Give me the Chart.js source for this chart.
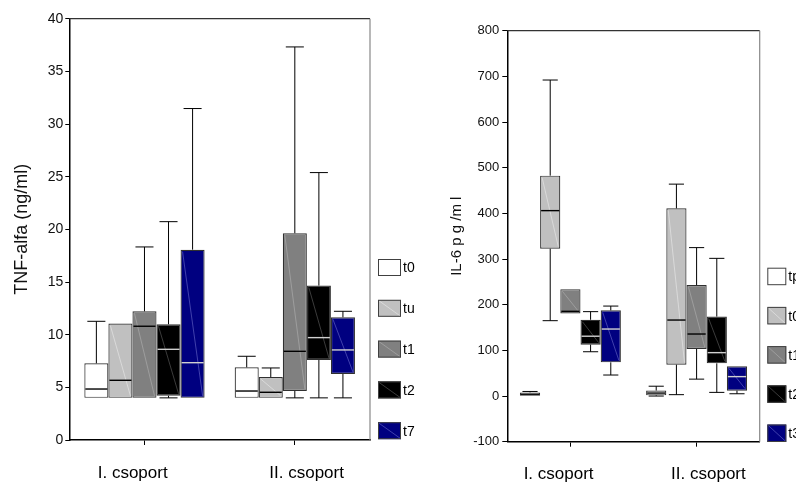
<!DOCTYPE html>
<html>
<head>
<meta charset="utf-8">
<script src="https://cdn.jsdelivr.net/npm/chart.js@4/dist/chart.umd.min.js"></script>
<style>
  html, body { margin: 0; padding: 0; background: #fff; }
  #wrap { position: relative; width: 796px; height: 487px; overflow: hidden; }
  #left { position: absolute; left: 0; top: 0; }
  #right { position: absolute; left: 440px; top: 0; }
</style>
</head>
<body>
<div id="wrap">
  <canvas id="left" width="440" height="487"></canvas>
  <canvas id="right" width="356" height="487"></canvas>
</div>
<script>
// x axis groups
const groups = ["I. csoport", "II. csoport"];

// TNF-alfa (ng/ml): one row per time point, values for [I., II.]
const tnfSeries = ["t0", "tu", "t1", "t2", "t7"];
const tnfMin = [[4, 4], [4, 4], [4, 4], [4, 4], [4, 4]];
const tnfQ1  = [[4, 4], [4, 4], [4, 4.65], [4.2, 7.6], [4, 6.27]];
const tnfMed = [[4.84, 4.65], [5.67, 4.53], [10.8, 8.42], [8.61, 9.72], [7.34, 8.55]];
const tnfQ3  = [[7.28, 6.9], [11.05, 5.98], [12.22, 19.63], [10.99, 14.66], [18.07, 11.65]];
const tnfMax = [[11.27, 7.95], [11.05, 6.84], [18.33, 37.32], [20.73, 25.39], [31.47, 12.22]];
const tnfYMin = 0, tnfYMax = 40, tnfYStep = 5;

// IL-6 (pg/ml)
const ilSeries = ["tp", "t0", "t1", "t2", "t3"];
const ilMin = [[0, 0], [165, 3], [181, 37], [97, 8], [46, 5]];
const ilQ1  = [[0.5, 1.5], [322.7, 68.7], [181, 103], [112.5, 71.6], [73.8, 11.8]];
const ilMed = [[4, 6.5], [406, 166.4], [185.5, 135.8], [131, 95], [146.7, 42.5]];
const ilQ3  = [[8, 12], [482.6, 411], [234, 243], [167, 174], [187.6, 65]];
const ilMax = [[10, 21.5], [692, 464], [234, 325], [184.8, 301.5], [197, 65]];
const ilYMin = -100, ilYMax = 800, ilYStep = 100;

// styles per series position
const fills = ["#ffffff", "#c0c0c0", "#808080", "#000000", "#000080"];
const streaks = [null, "#e0e0e0", "#a4a4a4", "#4a4a4a", "#5050b8"];
const medianColors = ["#000000", "#000000", "#000000", "#d0d0d0", "#d0d0d0"];

Chart.defaults.font.family = "'Liberation Sans', Arial, sans-serif";
Chart.defaults.color = "#000";

// whiskers, caps, medians and the faint diagonal inside each box
const boxPlot = {
  id: "boxPlot",
  afterDatasetsDraw(chart) {
    const ctx = chart.ctx;
    const y = chart.scales.y;
    ctx.save();
    chart.data.datasets.forEach((ds, di) => {
      const meta = chart.getDatasetMeta(di);
      meta.data.forEach((bar, i) => {
        const half = bar.width / 2;
        const left = bar.x - half, right = bar.x + half;
        const cap = bar.width * 0.75 / 2;
        const pMin = y.getPixelForValue(ds.stats.min[i]);
        const pMax = y.getPixelForValue(ds.stats.max[i]);
        const pMed = y.getPixelForValue(ds.stats.med[i]);
        const pTop = y.getPixelForValue(ds.data[i][1]);
        const pBot = y.getPixelForValue(ds.data[i][0]);

        ctx.strokeStyle = "#000";
        ctx.lineWidth = 1;
        if (pMax < pTop - 0.5) {
          ctx.beginPath();
          ctx.moveTo(bar.x, pTop); ctx.lineTo(bar.x, pMax);
          ctx.moveTo(bar.x - cap, pMax); ctx.lineTo(bar.x + cap, pMax);
          ctx.stroke();
        }
        if (pMin > pBot + 0.5) {
          ctx.beginPath();
          ctx.moveTo(bar.x, pBot); ctx.lineTo(bar.x, pMin);
          ctx.moveTo(bar.x - cap, pMin); ctx.lineTo(bar.x + cap, pMin);
          ctx.stroke();
        }
        if (streaks[di]) {
          ctx.strokeStyle = streaks[di];
          ctx.lineWidth = 0.8;
          ctx.beginPath();
          ctx.moveTo(left + 2, pTop + 2); ctx.lineTo(right - 2, pBot - 2);
          ctx.stroke();
        }
        ctx.strokeStyle = medianColors[di];
        ctx.lineWidth = 1.4;
        ctx.beginPath();
        ctx.moveTo(left + 1, pMed); ctx.lineTo(right - 1, pMed);
        ctx.stroke();
      });
    });
    ctx.restore();
  }
};

// top and right edges of the plot frame
const frame = {
  id: "frame",
  afterDraw(chart) {
    const { ctx, chartArea: a } = chart;
    ctx.save();
    ctx.lineWidth = 1.2;
    ctx.strokeStyle = "#333";
    ctx.beginPath(); ctx.moveTo(a.left, a.top); ctx.lineTo(a.right, a.top); ctx.stroke();
    ctx.strokeStyle = "#888";
    ctx.beginPath(); ctx.moveTo(a.right, a.top); ctx.lineTo(a.right, a.bottom); ctx.stroke();
    ctx.restore();
  }
};

// legend column on the right, bottom aligned with the plot
const boxLegend = {
  id: "boxLegend",
  afterDraw(chart, args, o) {
    const { ctx, chartArea: a } = chart;
    ctx.save();
    ctx.font = o.font;
    ctx.textBaseline = "middle";
    ctx.fillStyle = "#000";
    chart.data.datasets.forEach((ds, di) => {
      const x = a.right + o.dx;
      const yy = a.bottom - o.fromBottom + di * o.step;
      ctx.fillStyle = ds.backgroundColor;
      ctx.fillRect(x, yy, o.boxW, o.boxH);
      if (streaks[di]) {
        ctx.strokeStyle = streaks[di];
        ctx.lineWidth = 0.8;
        ctx.beginPath(); ctx.moveTo(x + 1, yy + 1); ctx.lineTo(x + o.boxW - 1, yy + o.boxH - 1); ctx.stroke();
      }
      ctx.strokeStyle = "#404040";
      ctx.lineWidth = 1;
      ctx.strokeRect(x + 0.5, yy + 0.5, o.boxW - 1, o.boxH - 1);
      ctx.fillStyle = "#000";
      ctx.fillText(ds.label, x + o.boxW + 2, yy + o.boxH / 2 + 1);
    });
    ctx.restore();
  }
};

function boxChart(id, series, mins, q1s, meds, q3s, maxs, yMin, yMax, yStep, look) {
  const datasets = series.map((name, s) => ({
    label: name,
    data: groups.map((g, i) => [q1s[s][i], q3s[s][i]]),
    stats: { min: mins[s], med: meds[s], max: maxs[s] },
    backgroundColor: fills[s],
    borderColor: "#303030",
    borderWidth: 1.2,
    borderSkipped: false,
    barPercentage: 1,
    categoryPercentage: 0.8
  }));
  return new Chart(document.getElementById(id), {
    type: "bar",
    data: { labels: groups, datasets: datasets },
    plugins: [boxPlot, frame, boxLegend],
    options: {
      responsive: false,
      maintainAspectRatio: false,
      animation: false,
      layout: { padding: { top: look.top, right: look.right, left: 0, bottom: 0 } },
      plugins: {
        legend: { display: false },
        tooltip: { enabled: false },
        boxLegend: look.legend
      },
      scales: {
        x: {
          grid: { drawOnChartArea: false, drawTicks: true, tickLength: 5, offset: false, color: "#000" },
          border: { display: true, color: "#000", width: 1.5 },
          ticks: {
            font: look.catFont,
            padding: look.catPad,
            maxRotation: 0,
            callback: (v, i) => i === 0 ? groups[i] + look.shift : look.shift + groups[i]
          },
          afterFit: s => { s.height = look.xh; }
        },
        y: {
          min: yMin,
          max: yMax,
          grid: { drawOnChartArea: false, drawTicks: true, tickLength: look.tickLen, color: "#000" },
          border: { display: true, color: "#000", width: 1.5 },
          ticks: { stepSize: yStep, font: look.tickFont, padding: look.tickPad, color: "#111" },
          title: { display: true, text: look.title, font: look.titleFont, padding: { top: look.titlePad, bottom: 0 }, color: "#111" },
          afterFit: s => { s.width = look.yw; }
        }
      }
    }
  });
}

boxChart("left", tnfSeries, tnfMin, tnfQ1, tnfMed, tnfQ3, tnfMax, tnfYMin, tnfYMax, tnfYStep, {
  top: 18.7, right: 70, yw: 69.3, xh: 47,
  title: "TNF-alfa (ng/ml)",
  titleFont: { size: 18, family: "'Liberation Sans', Arial, sans-serif" },
  titlePad: 11,
  tickFont: { size: 14 }, tickLen: 4, tickPad: 2,
  catFont: { size: 17 }, catPad: 18, shift: "     ",
  legend: { dx: 8, fromBottom: 181, step: 40.8, boxW: 23, boxH: 17, font: "14px 'Liberation Sans Narrow', 'Liberation Sans', sans-serif" }
});

boxChart("right", ilSeries, ilMin, ilQ1, ilMed, ilQ3, ilMax, ilYMin, ilYMax, ilYStep, {
  top: 30.7, right: 36.3, yw: 67.3, xh: 45.3,
  title: "IL-6 p g /m l",
  titleFont: { size: 15, family: "'Liberation Sans', Arial, sans-serif" },
  titlePad: 8,
  tickFont: { size: 13, family: "'Liberation Sans Narrow', 'Liberation Sans', sans-serif" }, tickLen: 5, tickPad: 3,
  catFont: { size: 17, family: "'Liberation Sans Narrow', 'Liberation Sans', sans-serif" }, catPad: 17, shift: "     ",
  legend: { dx: 7.6, fromBottom: 174, step: 39.2, boxW: 19, boxH: 17.5, font: "14px 'Liberation Sans Narrow', 'Liberation Sans', sans-serif" }
});
</script>
</body>
</html>
